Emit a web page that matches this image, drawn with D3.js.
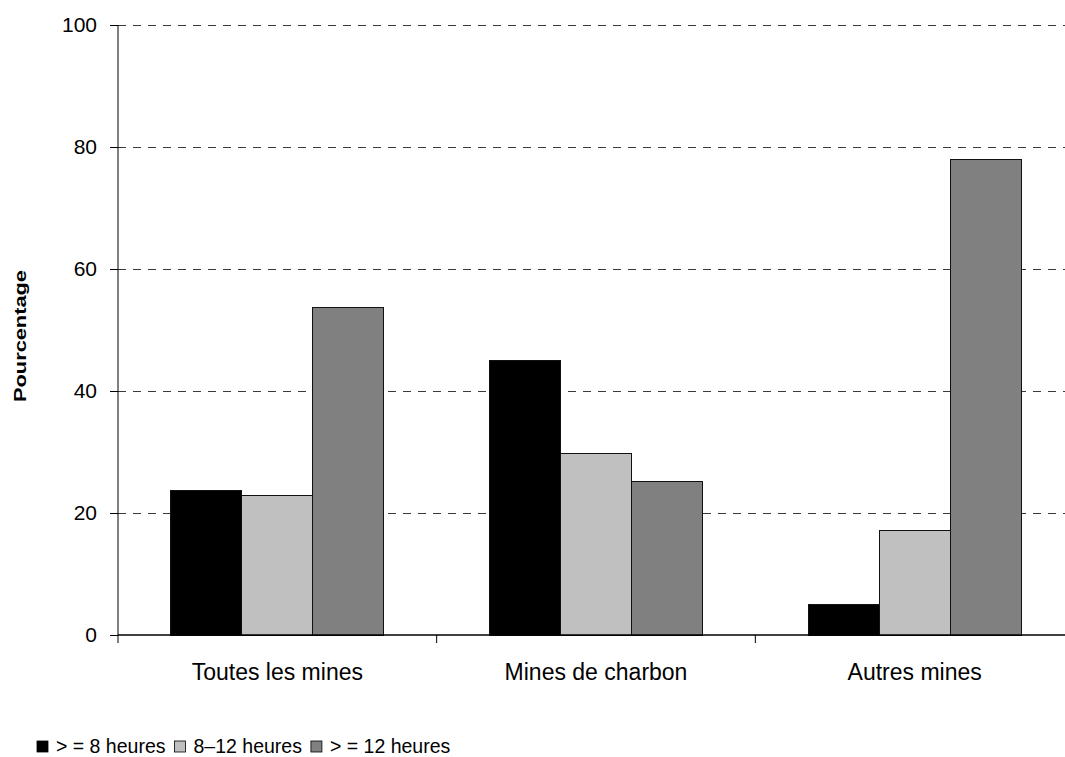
<!DOCTYPE html>
<html>
<head>
<meta charset="utf-8">
<script src="https://cdn.jsdelivr.net/npm/d3@7"></script>
<style>
  html, body { margin: 0; padding: 0; background: #fff; }
  svg { display: block; font-family: "Liberation Sans", Arial, sans-serif; }
</style>
</head>
<body>
<svg id="chart" width="1065" height="757"></svg>
<script>
// Share of mine workers by length of working day
const categories = ["Toutes les mines", "Mines de charbon", "Autres mines"];
const seriesNames = ["> = 8 heures", "8\u201312 heures", "> = 12 heures"];
const seriesColors = ["#000000", "#c0c0c0", "#808080"];
const ge8 = [23.7, 45.0, 5.0];
const h8to12 = [22.9, 29.7, 17.2];
const ge12 = [53.7, 25.2, 78.0];
const yTicks = [0, 20, 40, 60, 80, 100];

const seriesValues = [ge8, h8to12, ge12];

const svg = d3.select("#chart");
const plotLeft = 118, plotRight = 1074, plotTop = 25, plotBottom = 635;

const x0 = d3.scaleBand().domain(categories).range([plotLeft, plotRight]).paddingInner(0).paddingOuter(0);
const x1 = d3.scaleBand().domain(d3.range(seriesNames.length))
  .range([0, x0.bandwidth()]).paddingInner(0).paddingOuter(0.744);
const y = d3.scaleLinear().domain([0, 100]).range([plotBottom, plotTop]);

// dashed grid lines
svg.append("g").selectAll("line")
  .data(yTicks.filter(d => d > 0))
  .join("line")
  .attr("x1", plotLeft).attr("x2", plotRight)
  .attr("y1", d => y(d)).attr("y2", d => y(d))
  .attr("stroke", "#3a3a3a").attr("stroke-width", 1)
  .attr("stroke-dasharray", "8,7")
  .attr("shape-rendering", "crispEdges");

// bars
const groups = svg.append("g").selectAll("g")
  .data(categories)
  .join("g")
  .attr("transform", d => `translate(${x0(d)},0)`);

groups.selectAll("rect")
  .data((c, ci) => seriesValues.map((vals, si) => ({ si, v: vals[ci] })))
  .join("rect")
  .attr("x", d => x1(d.si))
  .attr("width", x1.bandwidth())
  .attr("y", d => y(d.v))
  .attr("height", d => y(0) - y(d.v))
  .attr("fill", d => seriesColors[d.si])
  .attr("stroke", "#111").attr("stroke-width", 1)
  .attr("shape-rendering", "crispEdges");

// y axis
const yAxis = svg.append("g")
  .attr("transform", `translate(${plotLeft},0)`)
  .call(d3.axisLeft(y).tickValues(yTicks).tickSize(8).tickPadding(13));
yAxis.selectAll("text").attr("font-size", 21).attr("fill", "#000")
  .attr("font-family", "'Liberation Sans', Arial, sans-serif");
yAxis.select(".domain").attr("d", `M0,${plotTop}V${plotBottom}`).attr("stroke", "#000");
yAxis.selectAll(".tick line").attr("stroke", "#000");

// x axis
const xAxis = svg.append("g")
  .attr("transform", `translate(0,${plotBottom})`);
xAxis.append("line").attr("x1", plotLeft).attr("x2", plotRight).attr("y1", 0).attr("y2", 0)
  .attr("stroke", "#000").attr("stroke-width", 1.3);
xAxis.selectAll("line.tk")
  .data(d3.range(categories.length + 1))
  .join("line").attr("class", "tk")
  .attr("x1", i => plotLeft + i * x0.bandwidth()).attr("x2", i => plotLeft + i * x0.bandwidth())
  .attr("y1", 0).attr("y2", 8).attr("stroke", "#000");
xAxis.selectAll("text")
  .data(categories)
  .join("text")
  .attr("x", d => x0(d) + x0.bandwidth() / 2)
  .attr("y", 45)
  .attr("text-anchor", "middle")
  .attr("font-size", 23)
  .text(d => d);

// y axis title
svg.append("text")
  .attr("transform", `translate(26,336) rotate(-90)`)
  .attr("text-anchor", "middle")
  .attr("font-size", 17).attr("font-weight", "bold")
  .attr("textLength", 132).attr("lengthAdjust", "spacingAndGlyphs")
  .text("Pourcentage");

// legend
const legend = svg.append("g").attr("transform", "translate(37,741)");
let lx = 0;
seriesNames.forEach((name, i) => {
  legend.append("rect").attr("x", lx).attr("y", 0).attr("width", 11).attr("height", 11)
    .attr("fill", seriesColors[i]).attr("stroke", "#000").attr("stroke-width", 0.8);
  const t = legend.append("text").attr("x", lx + 19).attr("y", 11.5)
    .attr("font-size", 19.5).text(name);
  lx += 19 + t.node().getComputedTextLength() + 9;
});
</script>
</body>
</html>
